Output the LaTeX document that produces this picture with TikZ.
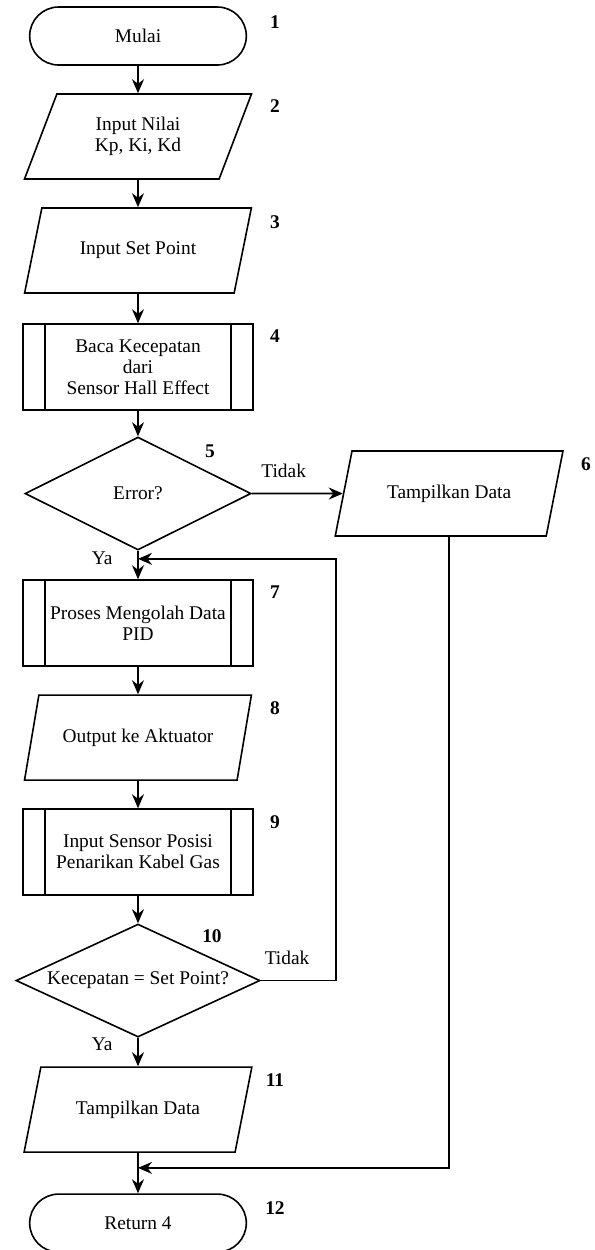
\documentclass[tikz,border=0pt]{standalone}
\usepackage{fontspec}
\setmainfont{Liberation Serif}
\usetikzlibrary{
		calc,
		positioning,
		arrows.meta,
		shapes.geometric,
		shapes.misc
	}
\tikzset{
		>={Stealth[length=7pt,width=6pt]}
	}

\begin{document}
\begin{tikzpicture}[-,node distance=14.5pt,line width=0.8pt,font=\fontsize{9.7}{10.4}\selectfont]
	\tikzstyle{point}=[coordinate]
	\tikzstyle{term}=[draw, rounded rectangle, minimum height=29pt, minimum width=115pt]
	\tikzstyle{io}=[draw, trapezium, trapezium left angle=69, trapezium right angle=111, trapezium stretches=true, minimum height=42.5pt, minimum width=114pt, align=center]
	\tikzstyle{proc}=[draw, rectangle, minimum height=43pt, minimum width=115pt, align=center,
		path picture={\draw ([xshift=11pt]path picture bounding box.north west) -- ([xshift=11pt]path picture bounding box.south west)
			([xshift=-11pt]path picture bounding box.north east) -- ([xshift=-11pt]path picture bounding box.south east);}]
	\tikzstyle{dec}=[draw, diamond, aspect=2, inner sep=0pt, minimum height=56.5pt, minimum width=113pt]
	\tikzstyle{num}=[font=\fontsize{9.7}{10.4}\selectfont\bfseries]
	\tikzstyle{arr}=[->]
	\useasboundingbox (-69pt,18pt) rectangle (228.5pt,-607pt);
	% Blocks
	\node[term] (start)                          {Mulai};
	\node[io]   (in1)  [below = 13.7pt of start] {Input Nilai\\Kp, Ki, Kd};
	\node[io]   (in2)  [below = 13.7pt of in1]   {Input Set Point};
	\node[proc] (read) [below = 14.7pt of in2]   {Baca Kecepatan\\dari\\Sensor Hall Effect};
	\node[dec]  (dec1) [below = 12.7pt of read]  {Error?};
	\node[io]   (out1) [right = 45.5pt of dec1]  {Tampilkan Data};
	\node[proc] (pid)  [below = 14.2pt of dec1]  {Proses Mengolah Data\\PID};
	\node[io]   (act)  [below = 13.7pt of pid]   {Output ke Aktuator};
	\node[proc] (sens) [below = 13.7pt of act]   {Input Sensor Posisi\\Penarikan Kabel Gas};
	\node[dec, aspect=2.2, minimum width=122pt] (dec2) [below = 13.7pt of sens] {Kecepatan = Set Point?};
	\node[io]   (out2) [below = 14.2pt of dec2]  {Tampilkan Data};
	\node[term] (stop) [below = 20.2pt of out2]  {Return 4};
	% Points
	\node[point] (p1)  [below = 4pt of dec1]     {};
	\node[point] (p2)  [below = 7.5pt of out2]   {};
	\node[point] (p3)  [right = 37.5pt of dec2]  {};
	\coordinate (numx) at (68.5pt,0);
	% Step numbers
	\node[num] (n1)  at ($(start.north -| numx)+(0,-8pt)$) {1};
	\node[num] (n2)  at ($(in1.north -| numx)+(0,-6.5pt)$) {2};
	\node[num] (n3)  at ($(in2.north -| numx)+(0,-7.5pt)$) {3};
	\node[num] (n4)  at ($(read.north -| numx)+(0,-6.5pt)$) {4};
	\node[num] (n5)  at ($(dec1.north)+(36pt,-7.5pt)$) {5};
	\node[num] (n6)  at ($(out1.top right corner)+(11pt,-7pt)$) {6};
	\node[num] (n7)  at ($(pid.north -| numx)+(0,-6.5pt)$) {7};
	\node[num] (n8)  at ($(act.north -| numx)+(0,-7pt)$) {8};
	\node[num] (n9)  at ($(sens.north -| numx)+(0,-7pt)$) {9};
	\node[num] (n10) at ($(dec2.north)+(37pt,-6.5pt)$) {10};
	\node[num] (n11) at ($(out2.north -| numx)+(0,-7pt)$) {11};
	\node[num] (n12) at ($(stop.north -| numx)+(0,-7.5pt)$) {12};
	% Straight lines
	\draw [arr] (start) -- (in1);
	\draw [arr] (in1) -- (in2);
	\draw [arr] (in2) -- (read);
	\draw [arr] (read) -- (dec1);
	\draw [arr] (dec1) -- node[above=4pt, pos=0.35] {Tidak} (out1);
	\draw [arr] (dec1) -- node[left=9pt, pos=0.27] {Ya} (pid);
	\draw [arr] (pid) -- (act);
	\draw [arr] (act) -- (sens);
	\draw [arr] (sens) -- (dec2);
	\draw [arr] (dec2) -- node[left=9pt, pos=0.23] {Ya} (out2);
	\draw [arr] (out2) -- (stop);
	% Other lines
	\draw [arr] (dec2) -- node[above=4pt, pos=0.35] {Tidak} (p3) |- (p1);
	\draw [arr] (out1) |- (p2);
\end{tikzpicture}
\end{document}
